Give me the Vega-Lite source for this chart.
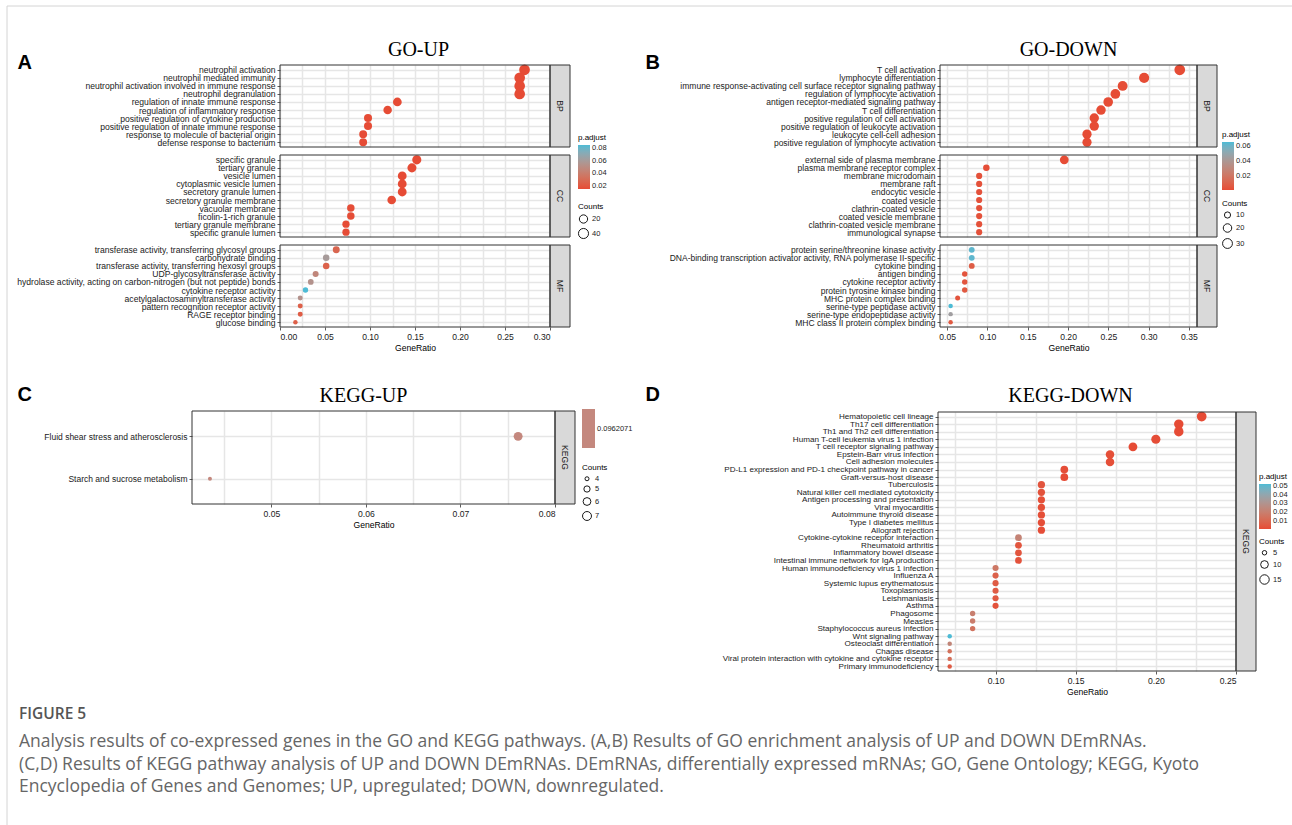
{
"$schema":"https://vega.github.io/schema/vega-lite/v6.json",
"width":1292,"height":825,"autosize":{"type":"none"},"padding":0,"background":"#FFFFFF",
"title":{"text":"FIGURE 5","subtitle":["Analysis results of co-expressed genes in the GO and KEGG pathways. (A,B) Results of GO enrichment analysis of UP and DOWN DEmRNAs.","(C,D) Results of KEGG pathway analysis of UP and DOWN DEmRNAs. DEmRNAs, differentially expressed mRNAs; GO, Gene Ontology; KEGG, Kyoto","Encyclopedia of Genes and Genomes; UP, upregulated; DOWN, downregulated."],"orient":"bottom","anchor":"start","frame":"group","offset":-144,"dx":19,"font":"Open Sans","fontSize":15.5,"fontWeight":600,"color":"#555555","subtitleFont":"Open Sans","subtitleFontSize":17.5,"subtitleColor":"#666666","subtitleLineHeight":22.5,"subtitlePadding":11,"align":"left"},
"config":{"view":{"stroke":null},
"axis":{"labelFont":"Liberation Sans","titleFont":"Liberation Sans","labelColor":"#1A1A1A","titleColor":"#000000","titleFontWeight":"normal","labelLimit":0,"tickColor":"#333333","tickWidth":0.8,"gridColor":"#E6E6E6","gridWidth":1.5},
"legend":{"labelFont":"Liberation Sans","titleFont":"Liberation Sans","titleFontWeight":"normal","titleFontSize":8,"labelFontSize":7.5,"titleColor":"#000000","labelColor":"#222222","gradientThickness":12,"gradientStrokeWidth":0,"titlePadding":3,"labelOffset":3,"symbolStrokeColor":"#000000","symbolFillColor":"#FFFFFF","symbolStrokeWidth":0.9,"symbolType":"circle","rowPadding":1}},
"resolve":{"scale":{"x":"independent","y":"independent","color":"independent","size":"independent"},"axis":{"x":"independent","y":"independent"},"legend":{"color":"independent","size":"independent"}},
"layer":[
{"data":{"values":[{"f":"figure"}]},"mark":{"type":"rect","filled":false,"stroke":"#D4D4D4","strokeWidth":1},"encoding":{"x":{"datum":0,"type":"quantitative","scale":{"domain":[0,1],"range":[7,1310],"nice":false,"zero":false},"axis":null},"x2":{"datum":1},"y":{"datum":0,"type":"quantitative","scale":{"domain":[0,1],"range":[6,850],"nice":false,"zero":false},"axis":null},"y2":{"datum":1}}},
{
"resolve":{"scale":{"x":"independent","y":"independent","color":"shared","size":"shared"},"axis":{"x":"independent","y":"independent"}},
"layer":[
{"data":{"values":[
{"term":"neutrophil activation","gr":0.2717,"n":50,"p":0.0147},
{"term":"neutrophil mediated immunity","gr":0.2663,"n":49,"p":0.0147},
{"term":"neutrophil activation involved in immune response","gr":0.2663,"n":49,"p":0.0147},
{"term":"neutrophil degranulation","gr":0.2663,"n":49,"p":0.0147},
{"term":"regulation of innate immune response","gr":0.1304,"n":24,"p":0.0148},
{"term":"regulation of inflammatory response","gr":0.1196,"n":22,"p":0.0149},
{"term":"positive regulation of cytokine production","gr":0.0978,"n":18,"p":0.015},
{"term":"positive regulation of innate immune response","gr":0.0978,"n":18,"p":0.015},
{"term":"response to molecule of bacterial origin","gr":0.0924,"n":17,"p":0.0152},
{"term":"defense response to bacterium","gr":0.0924,"n":17,"p":0.0152}]},
"mark":{"type":"point","filled":true,"opacity":1},
"encoding":{
"x":{"field":"gr","type":"quantitative","scale":{"domain":[0,0.3],"range":[280,550],"nice":false,"zero":false},"axis":{"orient":"top","offset":-65,"values":[0,0.025,0.05,0.075,0.1,0.125,0.15,0.175,0.2,0.225,0.25,0.275,0.3],"grid":true,"labels":false,"ticks":false,"domain":false,"title":"GO-UP","titleFont":"Liberation Serif","titleFontSize":20,"titleX":418,"titleY":-10,"titleAlign":"center","titleBaseline":"alphabetic","zindex":0}},
"y":{"field":"term","type":"nominal","sort":null,"scale":{"type":"point","range":[65,147],"padding":0.6},"axis":{"orient":"left","offset":-280,"grid":true,"ticks":true,"tickSize":3,"domain":false,"labelFontSize":8.6,"labelPadding":2,"title":"A","titleAngle":0,"titleX":-263,"titleY":68,"titleAlign":"left","titleBaseline":"alphabetic","titleFontSize":20,"titleFontWeight":"bold","zindex":0}},
"color":{"field":"p","type":"quantitative","scale":{"domain":[0.0147,0.0853],"range":["#E64B35","#4DBBD5"],"interpolate":"lab"},"legend":{"title":"p.adjust","orient":"none","legendX":578,"legendY":134,"direction":"vertical","gradientLength":44,"values":[0.02,0.04,0.06,0.08],"format":".2f"}},
"size":{"field":"n","type":"quantitative","scale":{"type":"sqrt","domain":[3,50],"range":[20,115],"zero":false},"legend":{"title":"Counts","orient":"none","legendX":578,"legendY":203,"values":[20,40],"format":"d"}}}},
{"data":{"values":[
{"term":"specific granule","gr":0.152,"n":28,"p":0.0147},
{"term":"tertiary granule","gr":0.1466,"n":27,"p":0.0147},
{"term":"vesicle lumen","gr":0.1358,"n":25,"p":0.0148},
{"term":"cytoplasmic vesicle lumen","gr":0.1358,"n":25,"p":0.0148},
{"term":"secretory granule lumen","gr":0.1358,"n":25,"p":0.0148},
{"term":"secretory granule membrane","gr":0.1241,"n":23,"p":0.0149},
{"term":"vacuolar membrane","gr":0.0787,"n":14,"p":0.0155},
{"term":"ficolin-1-rich granule","gr":0.0787,"n":14,"p":0.0155},
{"term":"tertiary granule membrane","gr":0.0733,"n":13,"p":0.0152},
{"term":"specific granule lumen","gr":0.0733,"n":13,"p":0.0152}]},
"mark":{"type":"point","filled":true,"opacity":1},
"encoding":{
"x":{"field":"gr","type":"quantitative","scale":{"domain":[0,0.3],"range":[280,550],"nice":false,"zero":false},"axis":{"orient":"top","offset":-155,"values":[0,0.025,0.05,0.075,0.1,0.125,0.15,0.175,0.2,0.225,0.25,0.275,0.3],"grid":true,"labels":false,"ticks":false,"domain":false,"title":null,"zindex":0}},
"y":{"field":"term","type":"nominal","sort":null,"scale":{"type":"point","range":[155,237],"padding":0.6},"axis":{"orient":"left","offset":-280,"grid":true,"ticks":true,"tickSize":3,"domain":false,"labelFontSize":8.6,"labelPadding":2,"title":null,"zindex":0}},
"color":{"field":"p","type":"quantitative","scale":{"domain":[0.0147,0.0853],"range":["#E64B35","#4DBBD5"],"interpolate":"lab"},"legend":{"title":"p.adjust","orient":"none","legendX":578,"legendY":134,"direction":"vertical","gradientLength":44,"values":[0.02,0.04,0.06,0.08],"format":".2f"}},
"size":{"field":"n","type":"quantitative","scale":{"type":"sqrt","domain":[3,50],"range":[20,115],"zero":false},"legend":{"title":"Counts","orient":"none","legendX":578,"legendY":203,"values":[20,40],"format":"d"}}}},
{"data":{"values":[
{"term":"transferase activity, transferring glycosyl groups","gr":0.0625,"n":11,"p":0.027},
{"term":"carbohydrate binding","gr":0.0513,"n":9,"p":0.06},
{"term":"transferase activity, transferring hexosyl groups","gr":0.0513,"n":9,"p":0.025},
{"term":"UDP-glycosyltransferase activity","gr":0.0396,"n":7,"p":0.046},
{"term":"hydrolase activity, acting on carbon-nitrogen (but not peptide) bonds","gr":0.0342,"n":6,"p":0.054},
{"term":"cytokine receptor activity","gr":0.0283,"n":5,"p":0.0853},
{"term":"acetylgalactosaminyltransferase activity","gr":0.0225,"n":4,"p":0.054},
{"term":"pattern recognition receptor activity","gr":0.0225,"n":4,"p":0.024},
{"term":"RAGE receptor binding","gr":0.0225,"n":4,"p":0.022},
{"term":"glucose binding","gr":0.0171,"n":3,"p":0.024}]},
"resolve":{"axis":{"x":"independent"}},
"layer":[
{"mark":{"type":"point","filled":true,"opacity":1},
"encoding":{
"x":{"field":"gr","type":"quantitative","scale":{"domain":[0,0.3],"range":[280,550],"nice":false,"zero":false},"axis":{"orient":"top","offset":-245,"values":[0,0.025,0.05,0.075,0.1,0.125,0.15,0.175,0.2,0.225,0.25,0.275,0.3],"grid":true,"labels":false,"ticks":false,"domain":false,"title":null,"zindex":0}},
"y":{"field":"term","type":"nominal","sort":null,"scale":{"type":"point","range":[245,327],"padding":0.6},"axis":{"orient":"left","offset":-280,"grid":true,"ticks":true,"tickSize":3,"domain":false,"labelFontSize":8.6,"labelPadding":2,"title":null,"zindex":0}},
"color":{"field":"p","type":"quantitative","scale":{"domain":[0.0147,0.0853],"range":["#E64B35","#4DBBD5"],"interpolate":"lab"},"legend":{"title":"p.adjust","orient":"none","legendX":578,"legendY":134,"direction":"vertical","gradientLength":44,"values":[0.02,0.04,0.06,0.08],"format":".2f"}},
"size":{"field":"n","type":"quantitative","scale":{"type":"sqrt","domain":[3,50],"range":[20,115],"zero":false},"legend":{"title":"Counts","orient":"none","legendX":578,"legendY":203,"values":[20,40],"format":"d"}}}},
{"mark":{"type":"point","opacity":0},
"encoding":{"x":{"field":"gr","type":"quantitative","scale":{"domain":[0,0.3],"range":[280,550],"nice":false,"zero":false},"axis":{"orient":"bottom","offset":-498,"values":[0,0.05,0.1,0.15,0.2,0.25,0.3],"format":".2f","grid":false,"ticks":true,"tickSize":3,"domain":false,"labels":true,"labelFontSize":8.6,"labelPadding":2,"title":"GeneRatio","titleFontSize":8.6,"titlePadding":3,"zindex":0}}}}]},
{"data":{"values":[{"f":"BP"}]},"layer":[
{"mark":{"type":"rect","fill":"#D9D9D9","stroke":"#333333","strokeWidth":1},"encoding":{"x":{"datum":0,"type":"quantitative","scale":{"domain":[0,1],"range":[550,570],"nice":false,"zero":false},"axis":null},"x2":{"datum":1},"y":{"datum":0,"type":"quantitative","scale":{"domain":[0,1],"range":[65,147],"nice":false,"zero":false},"axis":null},"y2":{"datum":1}}},
{"mark":{"type":"text","angle":90,"fontSize":8.6,"font":"Liberation Sans","color":"#1A1A1A","align":"center","baseline":"middle"},"encoding":{"x":{"datum":0.5,"type":"quantitative","scale":{"domain":[0,1],"range":[550,570],"nice":false,"zero":false},"axis":null},"y":{"datum":0.5,"type":"quantitative","scale":{"domain":[0,1],"range":[65,147],"nice":false,"zero":false},"axis":null},"text":{"field":"f"}}}]},
{"data":{"values":[{"f":"CC"}]},"layer":[
{"mark":{"type":"rect","fill":"#D9D9D9","stroke":"#333333","strokeWidth":1},"encoding":{"x":{"datum":0,"type":"quantitative","scale":{"domain":[0,1],"range":[550,570],"nice":false,"zero":false},"axis":null},"x2":{"datum":1},"y":{"datum":0,"type":"quantitative","scale":{"domain":[0,1],"range":[155,237],"nice":false,"zero":false},"axis":null},"y2":{"datum":1}}},
{"mark":{"type":"text","angle":90,"fontSize":8.6,"font":"Liberation Sans","color":"#1A1A1A","align":"center","baseline":"middle"},"encoding":{"x":{"datum":0.5,"type":"quantitative","scale":{"domain":[0,1],"range":[550,570],"nice":false,"zero":false},"axis":null},"y":{"datum":0.5,"type":"quantitative","scale":{"domain":[0,1],"range":[155,237],"nice":false,"zero":false},"axis":null},"text":{"field":"f"}}}]},
{"data":{"values":[{"f":"MF"}]},"layer":[
{"mark":{"type":"rect","fill":"#D9D9D9","stroke":"#333333","strokeWidth":1},"encoding":{"x":{"datum":0,"type":"quantitative","scale":{"domain":[0,1],"range":[550,570],"nice":false,"zero":false},"axis":null},"x2":{"datum":1},"y":{"datum":0,"type":"quantitative","scale":{"domain":[0,1],"range":[245,327],"nice":false,"zero":false},"axis":null},"y2":{"datum":1}}},
{"mark":{"type":"text","angle":90,"fontSize":8.6,"font":"Liberation Sans","color":"#1A1A1A","align":"center","baseline":"middle"},"encoding":{"x":{"datum":0.5,"type":"quantitative","scale":{"domain":[0,1],"range":[550,570],"nice":false,"zero":false},"axis":null},"y":{"datum":0.5,"type":"quantitative","scale":{"domain":[0,1],"range":[245,327],"nice":false,"zero":false},"axis":null},"text":{"field":"f"}}}]},
{"data":{"values":[{"f":"BP"}]},"mark":{"type":"rect","filled":false,"stroke":"#333333","strokeWidth":1},"encoding":{"x":{"datum":0,"type":"quantitative","scale":{"domain":[0,1],"range":[280,550],"nice":false,"zero":false},"axis":null},"x2":{"datum":1},"y":{"datum":0,"type":"quantitative","scale":{"domain":[0,1],"range":[65,147],"nice":false,"zero":false},"axis":null},"y2":{"datum":1}}},
{"data":{"values":[{"f":"CC"}]},"mark":{"type":"rect","filled":false,"stroke":"#333333","strokeWidth":1},"encoding":{"x":{"datum":0,"type":"quantitative","scale":{"domain":[0,1],"range":[280,550],"nice":false,"zero":false},"axis":null},"x2":{"datum":1},"y":{"datum":0,"type":"quantitative","scale":{"domain":[0,1],"range":[155,237],"nice":false,"zero":false},"axis":null},"y2":{"datum":1}}},
{"data":{"values":[{"f":"MF"}]},"mark":{"type":"rect","filled":false,"stroke":"#333333","strokeWidth":1},"encoding":{"x":{"datum":0,"type":"quantitative","scale":{"domain":[0,1],"range":[280,550],"nice":false,"zero":false},"axis":null},"x2":{"datum":1},"y":{"datum":0,"type":"quantitative","scale":{"domain":[0,1],"range":[245,327],"nice":false,"zero":false},"axis":null},"y2":{"datum":1}}}
]},
{
"resolve":{"scale":{"x":"independent","y":"independent","color":"shared","size":"shared"},"axis":{"x":"independent","y":"independent"}},
"layer":[
{"data":{"values":[
{"term":"T cell activation","gr":0.3386,"n":38,"p":0.001},
{"term":"lymphocyte differentiation","gr":0.2944,"n":33,"p":0.001},
{"term":"immune response-activating cell surface receptor signaling pathway","gr":0.2677,"n":30,"p":0.001},
{"term":"regulation of lymphocyte activation","gr":0.2587,"n":29,"p":0.001},
{"term":"antigen receptor-mediated signaling pathway","gr":0.2498,"n":28,"p":0.001},
{"term":"T cell differentiation","gr":0.2409,"n":27,"p":0.001},
{"term":"positive regulation of cell activation","gr":0.2325,"n":26,"p":0.001},
{"term":"positive regulation of leukocyte activation","gr":0.2325,"n":26,"p":0.001},
{"term":"leukocyte cell-cell adhesion","gr":0.2235,"n":25,"p":0.001},
{"term":"positive regulation of lymphocyte activation","gr":0.2235,"n":25,"p":0.001}]},
"mark":{"type":"point","filled":true,"opacity":1},
"encoding":{
"x":{"field":"gr","type":"quantitative","scale":{"domain":[0.0411,0.36],"range":[940,1197],"nice":false,"zero":false},"axis":{"orient":"top","offset":-65,"values":[0.05,0.075,0.1,0.125,0.15,0.175,0.2,0.225,0.25,0.275,0.3,0.325,0.35],"grid":true,"labels":false,"ticks":false,"domain":false,"title":"GO-DOWN","titleFont":"Liberation Serif","titleFontSize":20,"titleX":1068,"titleY":-10,"titleAlign":"center","titleBaseline":"alphabetic","zindex":0}},
"y":{"field":"term","type":"nominal","sort":null,"scale":{"type":"point","range":[65,147],"padding":0.6},"axis":{"orient":"left","offset":-940,"grid":true,"ticks":true,"tickSize":3,"domain":false,"labelFontSize":8.5,"labelPadding":2,"title":"B","titleAngle":0,"titleX":-295,"titleY":68,"titleAlign":"left","titleBaseline":"alphabetic","titleFontSize":20,"titleFontWeight":"bold","zindex":0}},
"color":{"field":"p","type":"quantitative","scale":{"domain":[0.0008,0.0657],"range":["#E64B35","#4DBBD5"],"interpolate":"lab"},"legend":{"title":"p.adjust","orient":"none","legendX":1222,"legendY":131,"direction":"vertical","gradientLength":48,"values":[0.02,0.04,0.06],"format":".2f"}},
"size":{"field":"n","type":"quantitative","scale":{"type":"sqrt","domain":[6,38],"range":[20,115],"zero":false},"legend":{"title":"Counts","orient":"none","legendX":1222,"legendY":200,"values":[10,20,30],"format":"d"}}}},
{"data":{"values":[
{"term":"external side of plasma membrane","gr":0.1953,"n":22,"p":0.001},
{"term":"plasma membrane receptor complex","gr":0.0986,"n":11,"p":0.002},
{"term":"membrane microdomain","gr":0.0897,"n":10,"p":0.003},
{"term":"membrane raft","gr":0.0897,"n":10,"p":0.003},
{"term":"endocytic vesicle","gr":0.0897,"n":10,"p":0.003},
{"term":"coated vesicle","gr":0.0897,"n":10,"p":0.003},
{"term":"clathrin-coated vesicle","gr":0.0897,"n":10,"p":0.003},
{"term":"coated vesicle membrane","gr":0.0897,"n":10,"p":0.003},
{"term":"clathrin-coated vesicle membrane","gr":0.0897,"n":10,"p":0.003},
{"term":"immunological synapse","gr":0.0897,"n":10,"p":0.003}]},
"mark":{"type":"point","filled":true,"opacity":1},
"encoding":{
"x":{"field":"gr","type":"quantitative","scale":{"domain":[0.0411,0.36],"range":[940,1197],"nice":false,"zero":false},"axis":{"orient":"top","offset":-155,"values":[0.05,0.075,0.1,0.125,0.15,0.175,0.2,0.225,0.25,0.275,0.3,0.325,0.35],"grid":true,"labels":false,"ticks":false,"domain":false,"title":null,"zindex":0}},
"y":{"field":"term","type":"nominal","sort":null,"scale":{"type":"point","range":[155,237],"padding":0.6},"axis":{"orient":"left","offset":-940,"grid":true,"ticks":true,"tickSize":3,"domain":false,"labelFontSize":8.5,"labelPadding":2,"title":null,"zindex":0}},
"color":{"field":"p","type":"quantitative","scale":{"domain":[0.0008,0.0657],"range":["#E64B35","#4DBBD5"],"interpolate":"lab"},"legend":{"title":"p.adjust","orient":"none","legendX":1222,"legendY":131,"direction":"vertical","gradientLength":48,"values":[0.02,0.04,0.06],"format":".2f"}},
"size":{"field":"n","type":"quantitative","scale":{"type":"sqrt","domain":[6,38],"range":[20,115],"zero":false},"legend":{"title":"Counts","orient":"none","legendX":1222,"legendY":200,"values":[10,20,30],"format":"d"}}}},
{"data":{"values":[
{"term":"protein serine/threonine kinase activity","gr":0.0805,"n":9,"p":0.063},
{"term":"DNA-binding transcription activator activity, RNA polymerase II-specific","gr":0.0805,"n":9,"p":0.063},
{"term":"cytokine binding","gr":0.0805,"n":9,"p":0.008},
{"term":"antigen binding","gr":0.0718,"n":8,"p":0.004},
{"term":"cytokine receptor activity","gr":0.0718,"n":8,"p":0.005},
{"term":"protein tyrosine kinase binding","gr":0.0718,"n":8,"p":0.006},
{"term":"MHC protein complex binding","gr":0.063,"n":7,"p":0.004},
{"term":"serine-type peptidase activity","gr":0.0543,"n":6,"p":0.0657},
{"term":"serine-type endopeptidase activity","gr":0.0543,"n":6,"p":0.045},
{"term":"MHC class II protein complex binding","gr":0.0543,"n":6,"p":0.006}]},
"resolve":{"axis":{"x":"independent"}},
"layer":[
{"mark":{"type":"point","filled":true,"opacity":1},
"encoding":{
"x":{"field":"gr","type":"quantitative","scale":{"domain":[0.0411,0.36],"range":[940,1197],"nice":false,"zero":false},"axis":{"orient":"top","offset":-245,"values":[0.05,0.075,0.1,0.125,0.15,0.175,0.2,0.225,0.25,0.275,0.3,0.325,0.35],"grid":true,"labels":false,"ticks":false,"domain":false,"title":null,"zindex":0}},
"y":{"field":"term","type":"nominal","sort":null,"scale":{"type":"point","range":[245,327],"padding":0.6},"axis":{"orient":"left","offset":-940,"grid":true,"ticks":true,"tickSize":3,"domain":false,"labelFontSize":8.5,"labelPadding":2,"title":null,"zindex":0}},
"color":{"field":"p","type":"quantitative","scale":{"domain":[0.0008,0.0657],"range":["#E64B35","#4DBBD5"],"interpolate":"lab"},"legend":{"title":"p.adjust","orient":"none","legendX":1222,"legendY":131,"direction":"vertical","gradientLength":48,"values":[0.02,0.04,0.06],"format":".2f"}},
"size":{"field":"n","type":"quantitative","scale":{"type":"sqrt","domain":[6,38],"range":[20,115],"zero":false},"legend":{"title":"Counts","orient":"none","legendX":1222,"legendY":200,"values":[10,20,30],"format":"d"}}}},
{"mark":{"type":"point","opacity":0},
"encoding":{"x":{"field":"gr","type":"quantitative","scale":{"domain":[0.0411,0.36],"range":[940,1197],"nice":false,"zero":false},"axis":{"orient":"bottom","offset":-498,"values":[0.05,0.1,0.15,0.2,0.25,0.3,0.35],"format":".2f","grid":false,"ticks":true,"tickSize":3,"domain":false,"labels":true,"labelFontSize":8.6,"labelPadding":2,"title":"GeneRatio","titleFontSize":8.6,"titlePadding":3,"zindex":0}}}}]},
{"data":{"values":[{"f":"BP"}]},"layer":[
{"mark":{"type":"rect","fill":"#D9D9D9","stroke":"#333333","strokeWidth":1},"encoding":{"x":{"datum":0,"type":"quantitative","scale":{"domain":[0,1],"range":[1197,1217],"nice":false,"zero":false},"axis":null},"x2":{"datum":1},"y":{"datum":0,"type":"quantitative","scale":{"domain":[0,1],"range":[65,147],"nice":false,"zero":false},"axis":null},"y2":{"datum":1}}},
{"mark":{"type":"text","angle":90,"fontSize":8.6,"font":"Liberation Sans","color":"#1A1A1A","align":"center","baseline":"middle"},"encoding":{"x":{"datum":0.5,"type":"quantitative","scale":{"domain":[0,1],"range":[1197,1217],"nice":false,"zero":false},"axis":null},"y":{"datum":0.5,"type":"quantitative","scale":{"domain":[0,1],"range":[65,147],"nice":false,"zero":false},"axis":null},"text":{"field":"f"}}}]},
{"data":{"values":[{"f":"CC"}]},"layer":[
{"mark":{"type":"rect","fill":"#D9D9D9","stroke":"#333333","strokeWidth":1},"encoding":{"x":{"datum":0,"type":"quantitative","scale":{"domain":[0,1],"range":[1197,1217],"nice":false,"zero":false},"axis":null},"x2":{"datum":1},"y":{"datum":0,"type":"quantitative","scale":{"domain":[0,1],"range":[155,237],"nice":false,"zero":false},"axis":null},"y2":{"datum":1}}},
{"mark":{"type":"text","angle":90,"fontSize":8.6,"font":"Liberation Sans","color":"#1A1A1A","align":"center","baseline":"middle"},"encoding":{"x":{"datum":0.5,"type":"quantitative","scale":{"domain":[0,1],"range":[1197,1217],"nice":false,"zero":false},"axis":null},"y":{"datum":0.5,"type":"quantitative","scale":{"domain":[0,1],"range":[155,237],"nice":false,"zero":false},"axis":null},"text":{"field":"f"}}}]},
{"data":{"values":[{"f":"MF"}]},"layer":[
{"mark":{"type":"rect","fill":"#D9D9D9","stroke":"#333333","strokeWidth":1},"encoding":{"x":{"datum":0,"type":"quantitative","scale":{"domain":[0,1],"range":[1197,1217],"nice":false,"zero":false},"axis":null},"x2":{"datum":1},"y":{"datum":0,"type":"quantitative","scale":{"domain":[0,1],"range":[245,327],"nice":false,"zero":false},"axis":null},"y2":{"datum":1}}},
{"mark":{"type":"text","angle":90,"fontSize":8.6,"font":"Liberation Sans","color":"#1A1A1A","align":"center","baseline":"middle"},"encoding":{"x":{"datum":0.5,"type":"quantitative","scale":{"domain":[0,1],"range":[1197,1217],"nice":false,"zero":false},"axis":null},"y":{"datum":0.5,"type":"quantitative","scale":{"domain":[0,1],"range":[245,327],"nice":false,"zero":false},"axis":null},"text":{"field":"f"}}}]},
{"data":{"values":[{"f":"BP"}]},"mark":{"type":"rect","filled":false,"stroke":"#333333","strokeWidth":1},"encoding":{"x":{"datum":0,"type":"quantitative","scale":{"domain":[0,1],"range":[940,1197],"nice":false,"zero":false},"axis":null},"x2":{"datum":1},"y":{"datum":0,"type":"quantitative","scale":{"domain":[0,1],"range":[65,147],"nice":false,"zero":false},"axis":null},"y2":{"datum":1}}},
{"data":{"values":[{"f":"CC"}]},"mark":{"type":"rect","filled":false,"stroke":"#333333","strokeWidth":1},"encoding":{"x":{"datum":0,"type":"quantitative","scale":{"domain":[0,1],"range":[940,1197],"nice":false,"zero":false},"axis":null},"x2":{"datum":1},"y":{"datum":0,"type":"quantitative","scale":{"domain":[0,1],"range":[155,237],"nice":false,"zero":false},"axis":null},"y2":{"datum":1}}},
{"data":{"values":[{"f":"MF"}]},"mark":{"type":"rect","filled":false,"stroke":"#333333","strokeWidth":1},"encoding":{"x":{"datum":0,"type":"quantitative","scale":{"domain":[0,1],"range":[940,1197],"nice":false,"zero":false},"axis":null},"x2":{"datum":1},"y":{"datum":0,"type":"quantitative","scale":{"domain":[0,1],"range":[245,327],"nice":false,"zero":false},"axis":null},"y2":{"datum":1}}}
]},
{
"resolve":{"scale":{"x":"independent","y":"independent","color":"shared","size":"shared"},"axis":{"x":"independent","y":"independent"}},
"layer":[
{"data":{"values":[
{"term":"Fluid shear stress and atherosclerosis","gr":0.0761,"n":7,"p":0.0962071},
{"term":"Starch and sucrose metabolism","gr":0.0435,"n":4,"p":0.0962071}]},
"resolve":{"axis":{"x":"independent"}},
"layer":[
{"mark":{"type":"point","filled":true,"opacity":1},
"encoding":{
"x":{"field":"gr","type":"quantitative","scale":{"domain":[0.0416,0.08],"range":[192,555],"nice":false,"zero":false},"axis":{"orient":"top","offset":-411,"values":[0.045,0.05,0.055,0.06,0.065,0.07,0.075,0.08],"grid":true,"labels":false,"ticks":false,"domain":false,"title":"KEGG-UP","titleFont":"Liberation Serif","titleFontSize":20,"titleX":363,"titleY":-10,"titleAlign":"center","titleBaseline":"alphabetic","zindex":0}},
"y":{"field":"term","type":"nominal","sort":null,"scale":{"type":"point","range":[411,504],"padding":0.6},"axis":{"orient":"left","offset":-192,"grid":true,"ticks":true,"tickSize":3,"domain":false,"labelFontSize":8.5,"labelPadding":2,"title":"C","titleAngle":0,"titleX":-175,"titleY":400,"titleAlign":"left","titleBaseline":"alphabetic","titleFontSize":20,"titleFontWeight":"bold","zindex":0}},
"color":{"field":"p","type":"quantitative","scale":{"domain":[0.0912071,0.1012071],"range":["#C4887E","#C4887E"]},"legend":{"title":null,"orient":"none","legendX":582,"legendY":409,"direction":"vertical","gradientLength":39,"gradientThickness":13,"values":[0.0962071],"format":".7f"}},
"size":{"field":"n","type":"quantitative","scale":{"type":"sqrt","domain":[4,7],"range":[16,80],"zero":false},"legend":{"title":"Counts","orient":"none","legendX":582,"legendY":464,"values":[4,5,6,7],"format":"d"}}}},
{"mark":{"type":"point","opacity":0},
"encoding":{"x":{"field":"gr","type":"quantitative","scale":{"domain":[0.0416,0.08],"range":[192,555],"nice":false,"zero":false},"axis":{"orient":"bottom","offset":-321,"values":[0.05,0.06,0.07,0.08],"format":".2f","grid":false,"ticks":true,"tickSize":3,"domain":false,"labels":true,"labelFontSize":8.6,"labelPadding":2,"title":"GeneRatio","titleFontSize":8.6,"titlePadding":3,"zindex":0}}}}]},
{"data":{"values":[{"f":"KEGG"}]},"layer":[
{"mark":{"type":"rect","fill":"#D9D9D9","stroke":"#333333","strokeWidth":1},"encoding":{"x":{"datum":0,"type":"quantitative","scale":{"domain":[0,1],"range":[555,575],"nice":false,"zero":false},"axis":null},"x2":{"datum":1},"y":{"datum":0,"type":"quantitative","scale":{"domain":[0,1],"range":[411,504],"nice":false,"zero":false},"axis":null},"y2":{"datum":1}}},
{"mark":{"type":"text","angle":90,"fontSize":8.6,"font":"Liberation Sans","color":"#1A1A1A","align":"center","baseline":"middle"},"encoding":{"x":{"datum":0.5,"type":"quantitative","scale":{"domain":[0,1],"range":[555,575],"nice":false,"zero":false},"axis":null},"y":{"datum":0.5,"type":"quantitative","scale":{"domain":[0,1],"range":[411,504],"nice":false,"zero":false},"axis":null},"text":{"field":"f"}}}]},
{"data":{"values":[{"f":"KEGG"}]},"mark":{"type":"rect","filled":false,"stroke":"#333333","strokeWidth":1},"encoding":{"x":{"datum":0,"type":"quantitative","scale":{"domain":[0,1],"range":[192,555],"nice":false,"zero":false},"axis":null},"x2":{"datum":1},"y":{"datum":0,"type":"quantitative","scale":{"domain":[0,1],"range":[411,504],"nice":false,"zero":false},"axis":null},"y2":{"datum":1}}}
]},
{
"resolve":{"scale":{"x":"independent","y":"independent","color":"shared","size":"shared"},"axis":{"x":"independent","y":"independent"}},
"layer":[
{"data":{"values":[
{"term":"Hematopoietic cell lineage","gr":0.2286,"n":16,"p":0.001},
{"term":"Th17 cell differentiation","gr":0.2143,"n":15,"p":0.001},
{"term":"Th1 and Th2 cell differentiation","gr":0.2143,"n":15,"p":0.001},
{"term":"Human T-cell leukemia virus 1 infection","gr":0.2,"n":14,"p":0.0015},
{"term":"T cell receptor signaling pathway","gr":0.1857,"n":13,"p":0.001},
{"term":"Epstein-Barr virus infection","gr":0.1714,"n":12,"p":0.002},
{"term":"Cell adhesion molecules","gr":0.1714,"n":12,"p":0.002},
{"term":"PD-L1 expression and PD-1 checkpoint pathway in cancer","gr":0.1429,"n":10,"p":0.0015},
{"term":"Graft-versus-host disease","gr":0.1429,"n":10,"p":0.001},
{"term":"Tuberculosis","gr":0.1286,"n":9,"p":0.004},
{"term":"Natural killer cell mediated cytotoxicity","gr":0.1286,"n":9,"p":0.003},
{"term":"Antigen processing and presentation","gr":0.1286,"n":9,"p":0.002},
{"term":"Viral myocarditis","gr":0.1286,"n":9,"p":0.002},
{"term":"Autoimmune thyroid disease","gr":0.1286,"n":9,"p":0.002},
{"term":"Type I diabetes mellitus","gr":0.1286,"n":9,"p":0.0015},
{"term":"Allograft rejection","gr":0.1286,"n":9,"p":0.0015},
{"term":"Cytokine-cytokine receptor interaction","gr":0.1143,"n":8,"p":0.022},
{"term":"Rheumatoid arthritis","gr":0.1143,"n":8,"p":0.004},
{"term":"Inflammatory bowel disease","gr":0.1143,"n":8,"p":0.004},
{"term":"Intestinal immune network for IgA production","gr":0.1143,"n":8,"p":0.003},
{"term":"Human immunodeficiency virus 1 infection","gr":0.1,"n":7,"p":0.017},
{"term":"Influenza A","gr":0.1,"n":7,"p":0.008},
{"term":"Systemic lupus erythematosus","gr":0.1,"n":7,"p":0.006},
{"term":"Toxoplasmosis","gr":0.1,"n":7,"p":0.006},
{"term":"Leishmaniasis","gr":0.1,"n":7,"p":0.005},
{"term":"Asthma","gr":0.1,"n":7,"p":0.003},
{"term":"Phagosome","gr":0.0857,"n":6,"p":0.02},
{"term":"Measles","gr":0.0857,"n":6,"p":0.019},
{"term":"Staphylococcus aureus infection","gr":0.0857,"n":6,"p":0.015},
{"term":"Wnt signaling pathway","gr":0.0714,"n":5,"p":0.052},
{"term":"Osteoclast differentiation","gr":0.0714,"n":5,"p":0.023},
{"term":"Chagas disease","gr":0.0714,"n":5,"p":0.014},
{"term":"Viral protein interaction with cytokine and cytokine receptor","gr":0.0714,"n":5,"p":0.013},
{"term":"Primary immunodeficiency","gr":0.0714,"n":5,"p":0.006}]},
"resolve":{"axis":{"x":"independent"}},
"layer":[
{"mark":{"type":"point","filled":true,"opacity":1},
"encoding":{
"x":{"field":"gr","type":"quantitative","scale":{"domain":[0.0641,0.25],"range":[938,1236],"nice":false,"zero":false},"axis":{"orient":"top","offset":-412,"values":[0.075,0.1,0.125,0.15,0.175,0.2,0.225,0.25],"grid":true,"labels":false,"ticks":false,"domain":false,"title":"KEGG-DOWN","titleFont":"Liberation Serif","titleFontSize":20,"titleX":1070,"titleY":-11,"titleAlign":"center","titleBaseline":"alphabetic","zindex":0}},
"y":{"field":"term","type":"nominal","sort":null,"scale":{"type":"point","range":[412,671],"padding":0.6},"axis":{"orient":"left","offset":-938,"grid":true,"ticks":true,"tickSize":3,"domain":false,"labelFontSize":8.1,"labelPadding":2,"title":"D","titleAngle":0,"titleX":-293,"titleY":400,"titleAlign":"left","titleBaseline":"alphabetic","titleFontSize":20,"titleFontWeight":"bold","zindex":0}},
"color":{"field":"p","type":"quantitative","scale":{"domain":[0.001,0.052],"range":["#E64B35","#4DBBD5"],"interpolate":"lab"},"legend":{"title":"p.adjust","orient":"none","legendX":1259,"legendY":473,"direction":"vertical","gradientLength":45,"values":[0.01,0.02,0.03,0.04,0.05],"format":".2f"}},
"size":{"field":"n","type":"quantitative","scale":{"type":"sqrt","domain":[5,16],"range":[20,95],"zero":false},"legend":{"title":"Counts","orient":"none","legendX":1259,"legendY":538,"values":[5,10,15],"format":"d"}}}},
{"mark":{"type":"point","opacity":0},
"encoding":{"x":{"field":"gr","type":"quantitative","scale":{"domain":[0.0641,0.25],"range":[938,1236],"nice":false,"zero":false},"axis":{"orient":"bottom","offset":-154,"values":[0.1,0.15,0.2,0.25],"format":".2f","grid":false,"ticks":true,"tickSize":3,"domain":false,"labels":true,"labelFontSize":8.6,"labelPadding":2,"title":"GeneRatio","titleFontSize":8.6,"titlePadding":3,"zindex":0}}}}]},
{"data":{"values":[{"f":"KEGG"}]},"layer":[
{"mark":{"type":"rect","fill":"#D9D9D9","stroke":"#333333","strokeWidth":1},"encoding":{"x":{"datum":0,"type":"quantitative","scale":{"domain":[0,1],"range":[1236,1256],"nice":false,"zero":false},"axis":null},"x2":{"datum":1},"y":{"datum":0,"type":"quantitative","scale":{"domain":[0,1],"range":[412,671],"nice":false,"zero":false},"axis":null},"y2":{"datum":1}}},
{"mark":{"type":"text","angle":90,"fontSize":8.6,"font":"Liberation Sans","color":"#1A1A1A","align":"center","baseline":"middle"},"encoding":{"x":{"datum":0.5,"type":"quantitative","scale":{"domain":[0,1],"range":[1236,1256],"nice":false,"zero":false},"axis":null},"y":{"datum":0.5,"type":"quantitative","scale":{"domain":[0,1],"range":[412,671],"nice":false,"zero":false},"axis":null},"text":{"field":"f"}}}]},
{"data":{"values":[{"f":"KEGG"}]},"mark":{"type":"rect","filled":false,"stroke":"#333333","strokeWidth":1},"encoding":{"x":{"datum":0,"type":"quantitative","scale":{"domain":[0,1],"range":[938,1236],"nice":false,"zero":false},"axis":null},"x2":{"datum":1},"y":{"datum":0,"type":"quantitative","scale":{"domain":[0,1],"range":[412,671],"nice":false,"zero":false},"axis":null},"y2":{"datum":1}}}
]}
]
}
